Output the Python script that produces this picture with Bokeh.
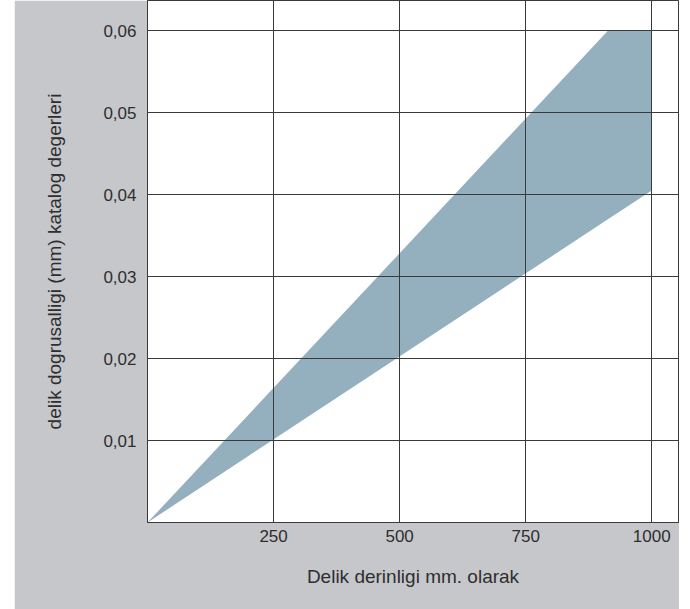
from bokeh.plotting import figure
from bokeh.models import FixedTicker, CustomJSTickFormatter, Range1d
from bokeh.embed import file_html
from bokeh.resources import INLINE

# data: hole depth (mm) and straightness tolerance band (mm)
depth = [0, 913, 1000]
lower = [0.0, 0.0370, 0.0405]
upper = [0.0, 0.0600, 0.0600]

x_ticks = [250, 500, 750, 1000]
y_ticks = [0.01, 0.02, 0.03, 0.04, 0.05, 0.06]

FONT = "Liberation Sans"
GRAY = "#c6c7cb"
LINE = "#3a3a3a"

p = figure(width=665, height=609, output_backend="svg", toolbar_location=None,
           x_range=Range1d(0, 1053), y_range=Range1d(0, 0.0637),
           min_border_left=133, min_border_right=1, min_border_top=0,
           min_border_bottom=87, border_fill_color=GRAY, background_fill_color="white",
           outline_line_color=LINE, outline_line_width=1)
p.margin = (0, 0, 0, 14)

p.varea(x=depth, y1=lower, y2=upper, fill_color="#94afbd", fill_alpha=1.0)

p.xaxis.ticker = FixedTicker(ticks=x_ticks)
p.yaxis.ticker = FixedTicker(ticks=y_ticks)
p.yaxis.formatter = CustomJSTickFormatter(code="return tick.toFixed(2).replace('.', ',');")

for ax in (p.xaxis[0], p.yaxis[0]):
    ax.axis_line_color = LINE
    ax.axis_line_width = 1
    ax.major_tick_out = 0
    ax.major_tick_in = 0
    ax.minor_tick_out = 0
    ax.minor_tick_in = 0
    ax.major_label_text_font = FONT
    ax.major_label_text_font_size = "17px"
    ax.major_label_text_color = "#2e2e2e"
    ax.axis_label_text_font = FONT
    ax.axis_label_text_font_size = "19px"
    ax.axis_label_text_font_style = "normal"
    ax.axis_label_text_color = "#2e2e2e"

p.xaxis.axis_label = "Delik derinligi mm. olarak"
p.yaxis.axis_label = "delik dogrusalligi (mm) katalog degerleri"
p.xaxis.major_label_standoff = 7
p.yaxis.major_label_standoff = 11
p.xaxis.axis_label_standoff = 21
p.yaxis.axis_label_standoff = 35

p.grid.grid_line_color = LINE
p.grid.grid_line_width = 1
p.grid.level = "overlay"

open("out.html", "w").write(file_html(p, INLINE))
